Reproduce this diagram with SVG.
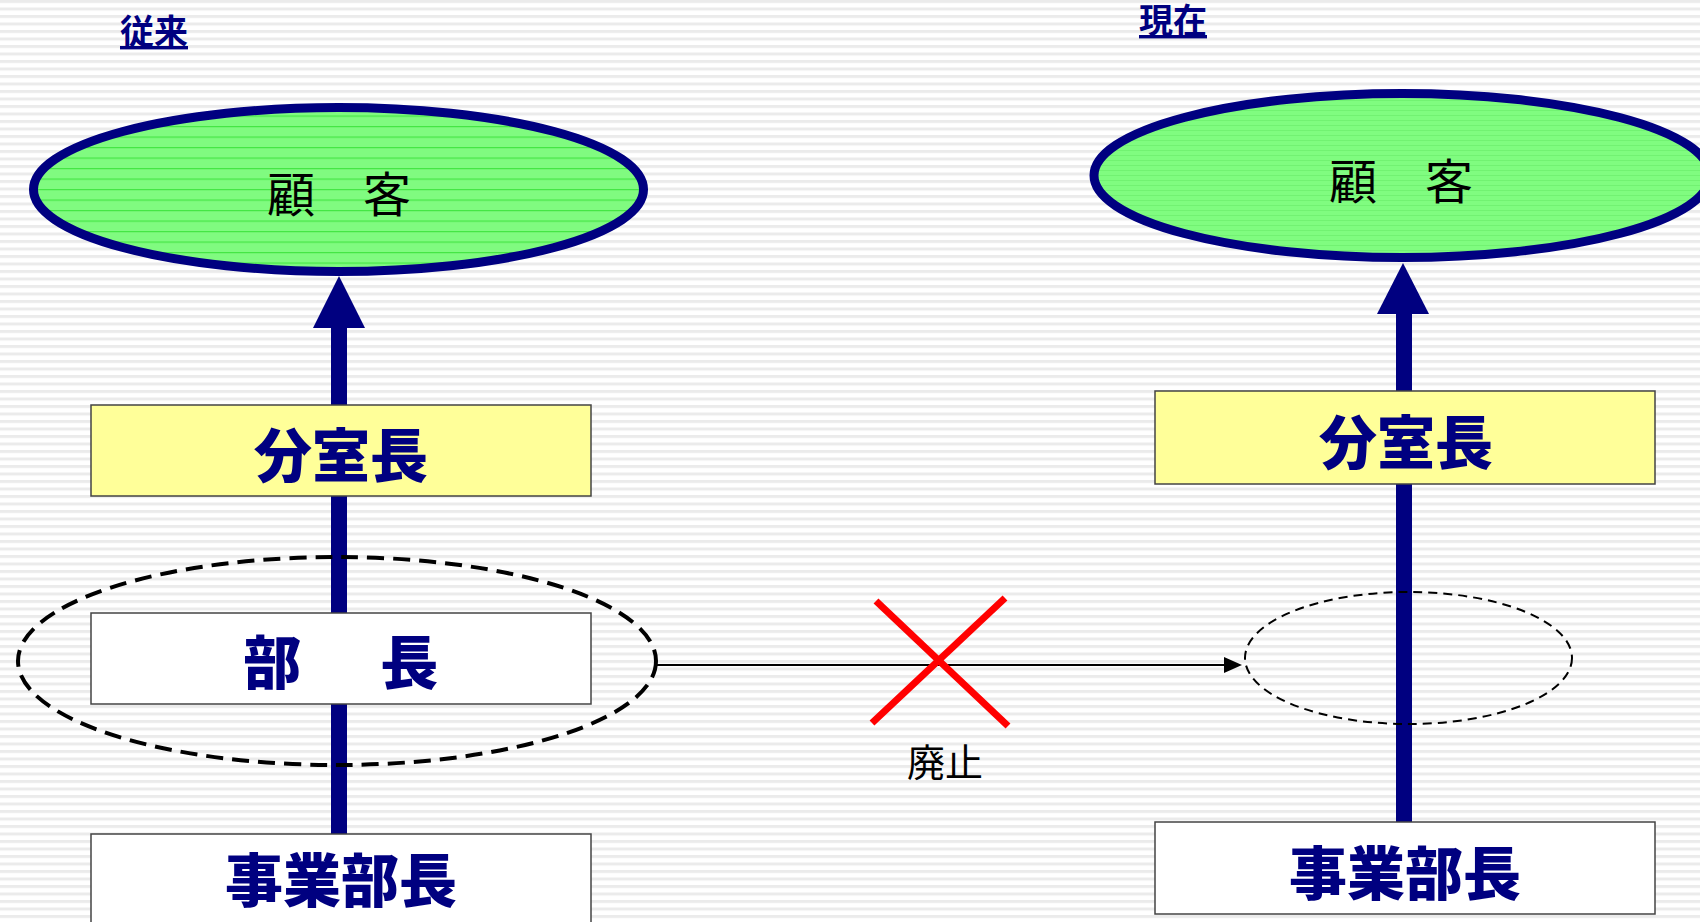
<svg xmlns="http://www.w3.org/2000/svg" width="1700" height="922" viewBox="0 0 1700 922">
<style>
.ttl{font-family:"Noto Sans CJK JP","Noto Sans CJK SC",sans-serif;font-weight:bold;font-size:34px;fill:#000080;text-decoration:underline}
.lbl{font-family:"Noto Sans CJK JP","Noto Sans CJK SC",sans-serif;font-weight:900;font-size:58px;fill:#000080;text-anchor:middle}
.cust{font-family:"Noto Sans CJK JP","Noto Sans CJK SC",sans-serif;font-size:48px;fill:#000000;text-anchor:middle}
.note{font-family:"Noto Sans CJK JP","Noto Sans CJK SC",sans-serif;font-size:38px;fill:#000000;text-anchor:middle}
.box{stroke:#444444;stroke-width:1.5}
.cell{stroke:#000080;stroke-width:9}
.navy{stroke:#000080;stroke-width:16;fill:none}
.head{fill:#000080}
</style>
<defs>
<pattern id="bg" patternUnits="userSpaceOnUse" width="10" height="7.5">
<rect width="10" height="7.5" fill="#ffffff"/>
<rect y="0" width="10" height="3" fill="#ebebeb"/>
</pattern>
<pattern id="green" patternUnits="userSpaceOnUse" width="10" height="10.5">
<rect width="10" height="10.5" fill="#80fb80"/>
<rect y="0" width="10" height="1.2" fill="#44e644"/>
</pattern>
<pattern id="green2" patternUnits="userSpaceOnUse" width="10" height="5">
<rect width="10" height="5" fill="#80fc80"/>
<rect y="0" width="10" height="1" fill="#72f272"/>
</pattern>
</defs>
<rect width="1700" height="922" fill="url(#bg)"/>

<g id="titles">
<text class="ttl" x="120" y="44">従来</text>
<text class="ttl" x="1139" y="33">現在</text>
</g>

<g id="connectors">
<line class="navy" x1="339" y1="326" x2="339" y2="836"/>
<polygon class="head" points="339,276 313,328 365,328"/>
<line class="navy" x1="1404" y1="312" x2="1404" y2="823"/>
<polygon class="head" points="1403,263 1377,314 1429,314"/>
<line x1="657" y1="665" x2="1226" y2="665" stroke="#000000" stroke-width="2"/>
<polygon points="1224,657 1242,665 1224,673" fill="#000000"/>
</g>

<g id="customer-old">
<ellipse class="cell" fill="url(#green)" cx="338.5" cy="189.5" rx="305" ry="82"/>
<text class="cust" x="339" y="212">顧　客</text>
</g>

<g id="customer-new">
<ellipse class="cell" fill="url(#green2)" cx="1402" cy="175.5" rx="308" ry="82"/>
<text class="cust" x="1401" y="199">顧　客</text>
</g>

<g id="bunshitsucho-old">
<rect class="box" x="91" y="405" width="500" height="91" fill="#ffff99"/>
<text class="lbl" x="341" y="477">分室長</text>
</g>

<g id="bucho-old">
<rect class="box" x="91" y="613" width="500" height="91" fill="#ffffff"/>
<text class="lbl" x="346" y="684" letter-spacing="10.5">部　長</text>
</g>

<g id="bucho-group">
<ellipse cx="337" cy="661" rx="319" ry="104" fill="none" stroke="#000000" stroke-width="4" stroke-dasharray="17 9"/>
</g>

<g id="jigyobucho-old">
<rect class="box" x="91" y="834" width="500" height="100" fill="#ffffff"/>
<text class="lbl" x="341" y="902">事業部長</text>
</g>

<g id="bunshitsucho-new">
<rect class="box" x="1155" y="391" width="500" height="93" fill="#ffff99"/>
<text class="lbl" x="1406" y="464">分室長</text>
</g>

<g id="vacant">
<ellipse cx="1408.5" cy="658" rx="163.5" ry="66" fill="none" stroke="#000000" stroke-width="2" stroke-dasharray="9 6"/>
</g>

<g id="jigyobucho-new">
<rect class="box" x="1155" y="822" width="500" height="92" fill="#ffffff"/>
<text class="lbl" x="1405" y="895">事業部長</text>
</g>

<g id="abolished">
<line x1="876" y1="601" x2="1008" y2="726" stroke="#ff0000" stroke-width="7"/>
<line x1="1005" y1="598" x2="872" y2="723" stroke="#ff0000" stroke-width="7"/>
<text class="note" x="945" y="776">廃止</text>
</g>
</svg>
